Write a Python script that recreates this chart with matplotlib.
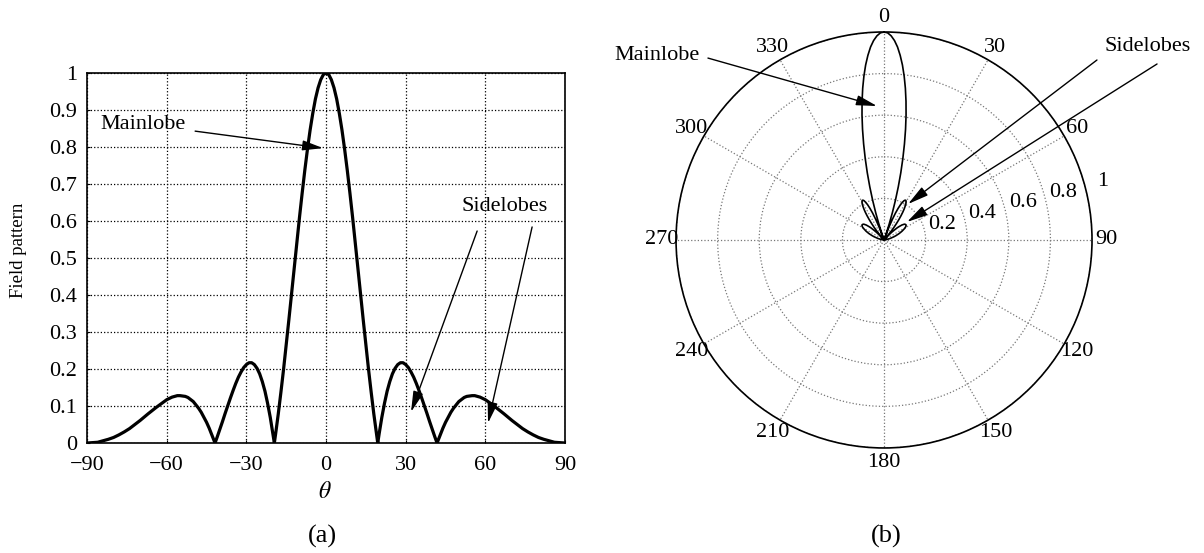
import numpy as np
import matplotlib
matplotlib.use("Agg")
import matplotlib.pyplot as plt
from matplotlib.patches import FancyArrowPatch

plt.rcParams['font.family'] = ['Liberation Serif', 'DejaVu Serif']
plt.rcParams['mathtext.fontset'] = 'stix'

# ---- data (field pattern vs. theta, degrees) ----
theta_deg = [-90, -88, -86, -84, -82, -80, -78, -76, -74, -72, -70, -67, -64, -61, -60,
             -58, -56, -55, -53, -52, -50, -48, -47, -45, -44, -43, -41.81, -41, -40,
             -39, -38, -37, -36, -35, -34, -33, -32, -31, -30, -29, -28, -27, -26, -25,
             -24, -23, -22, -21, -20, -19.47, -19, -18, -17, -16, -15, -14, -13, -12,
             -11, -10, -9, -8, -7, -6, -5, -4, -3, -2, -1,
             0,
             1, 2, 3, 4, 5, 6, 7, 8, 9, 10, 11, 12, 13, 14, 15, 16, 17, 18, 19, 19.47,
             20, 21, 22, 23, 24, 25, 26, 27, 28, 29, 30, 31, 32, 33, 34, 35, 36, 37, 38,
             39, 40, 41, 41.81, 43, 44, 45, 47, 48, 50, 52, 53, 55, 56, 58, 60, 61, 64,
             67, 70, 72, 74, 76, 78, 80, 82, 84, 86, 88, 90]
field = [0.000, 0.001, 0.002, 0.006, 0.010, 0.015, 0.022, 0.030, 0.039, 0.050, 0.061,
         0.079, 0.096, 0.112, 0.117, 0.124, 0.128, 0.128, 0.126, 0.123, 0.112, 0.094,
         0.083, 0.056, 0.040, 0.022, 0.000, 0.016, 0.037, 0.058, 0.080, 0.101, 0.122,
         0.142, 0.161, 0.178, 0.192, 0.204, 0.212, 0.217, 0.217, 0.212, 0.202, 0.187,
         0.166, 0.140, 0.107, 0.069, 0.025, 0.000, 0.024, 0.078, 0.137, 0.199, 0.265,
         0.333, 0.402, 0.472, 0.542, 0.610, 0.675, 0.737, 0.794, 0.846, 0.891, 0.930,
         0.960, 0.982, 0.996,
         1.000,
         0.996, 0.982, 0.960, 0.930, 0.891, 0.846, 0.794, 0.737, 0.675, 0.610, 0.542,
         0.472, 0.402, 0.333, 0.265, 0.199, 0.137, 0.078, 0.024, 0.000,
         0.025, 0.069, 0.107, 0.140, 0.166, 0.187, 0.202, 0.212, 0.217, 0.217, 0.212,
         0.204, 0.192, 0.178, 0.161, 0.142, 0.122, 0.101, 0.080, 0.058, 0.037, 0.016,
         0.000, 0.022, 0.040, 0.056, 0.083, 0.094, 0.112, 0.123, 0.126, 0.128, 0.128,
         0.124, 0.117, 0.112, 0.096, 0.079, 0.061, 0.050, 0.039, 0.030, 0.022, 0.015,
         0.010, 0.006, 0.002, 0.001, 0.000]

x_ticks = [-90, -60, -30, 0, 30, 60, 90]
x_tick_labels = ['\u221290', '\u221260', '\u221230', '0', '30', '60', '90']
y_ticks = [0, 0.1, 0.2, 0.3, 0.4, 0.5, 0.6, 0.7, 0.8, 0.9, 1.0]
y_tick_labels = ['0', '0.1', '0.2', '0.3', '0.4', '0.5', '0.6', '0.7', '0.8', '0.9', '1']

polar_angles = [0, 30, 60, 90, 120, 150, 180, 210, 240, 270, 300, 330]
polar_angle_labels = ['0', '30', '60', '90', '120', '150', '180', '210', '240', '270', '300', '330']
polar_radii = [0.2, 0.4, 0.6, 0.8, 1.0]
polar_radius_labels = ['0.2', '0.4', '0.6', '0.8', '1']

FS = 16

fig = plt.figure(figsize=(12.04, 5.53), dpi=100)

# ---------------- (a) rectangular plot ----------------
ax = fig.add_axes([0.0723, 0.1989, 0.397, 0.669])
ax.plot(theta_deg, field, color='black', lw=2.3, solid_joinstyle='round')
ax.set_xlim(-90, 90)
ax.set_ylim(0, 1)
ax.set_xticks(x_ticks)
ax.set_xticklabels(x_tick_labels)
ax.set_yticks(y_ticks)
ax.set_yticklabels(y_tick_labels)
ax.tick_params(direction='in', length=2, labelsize=FS, width=0.8)
ax.tick_params(axis='x', pad=9)
ax.tick_params(axis='y', pad=7)
ax.grid(True, color='black', linestyle=':', linewidth=0.9)
for s in ax.spines.values():
    s.set_linewidth(1.2)
ax.set_ylabel('Field pattern', fontsize=13.5)
ax.yaxis.set_label_coords(-0.125, 0.52)

arrow_kw = dict(arrowstyle='-|>,head_length=0.9,head_width=0.22', color='black',
                lw=1.0, shrinkA=0, shrinkB=0, mutation_scale=14)
ax.text(-68.9, 0.862, 'Mainlobe', fontsize=FS, ha='center', va='center')
ax.annotate('', xy=(-1.1, 0.797), xytext=(-49.3, 0.843), arrowprops=arrow_kw)
ax.text(67.4, 0.638, 'Sidelobes', fontsize=FS, ha='center', va='center')
ax.annotate('', xy=(32.0, 0.084), xytext=(56.9, 0.573), arrowprops=arrow_kw)
ax.annotate('', xy=(61.0, 0.054), xytext=(77.6, 0.584), arrowprops=arrow_kw)

fig.text(0.270, 0.1085, r'$\theta$', fontsize=17, ha='center', va='center')
fig.text(0.268, 0.0307, '(a)', fontsize=19, ha='center', va='center')

# ---------------- (b) polar plot ----------------
pax = fig.add_axes([0.5615, 0.1899, 0.3455, 0.7523], projection='polar')
pax.set_theta_zero_location('N')
pax.set_theta_direction(-1)
pax.plot(np.deg2rad(theta_deg), field, color='black', lw=1.2)
pax.set_ylim(0, 1)
pax.set_thetagrids(polar_angles, polar_angle_labels, fontsize=FS)
pax.set_rgrids(polar_radii, labels=[''] * len(polar_radii))
pax.grid(True, color='#777777', linestyle=':', linewidth=0.9)
pax.spines['polar'].set_linewidth(1.2)
pax.tick_params(axis='x', pad=0)
for r, lab in zip(polar_radii, polar_radius_labels):
    pax.text(np.deg2rad(75), r + 0.09, lab, fontsize=FS, ha='center', va='center')

fig.text(0.5457, 0.9005, 'Mainlobe', fontsize=FS, ha='center', va='center')
fig.add_artist(FancyArrowPatch((0.588, 0.895), (0.7284, 0.8083),
               transform=fig.transFigure, **arrow_kw))
fig.text(0.9535, 0.9168, 'Sidelobes', fontsize=FS, ha='center', va='center')
fig.add_artist(FancyArrowPatch((0.9111, 0.8915), (0.7542, 0.6311),
               transform=fig.transFigure, **arrow_kw))
fig.add_artist(FancyArrowPatch((0.961, 0.8843), (0.7533, 0.5986),
               transform=fig.transFigure, **arrow_kw))
fig.text(0.736, 0.0307, '(b)', fontsize=19, ha='center', va='center')

fig.savefig('out.png', dpi=100)
